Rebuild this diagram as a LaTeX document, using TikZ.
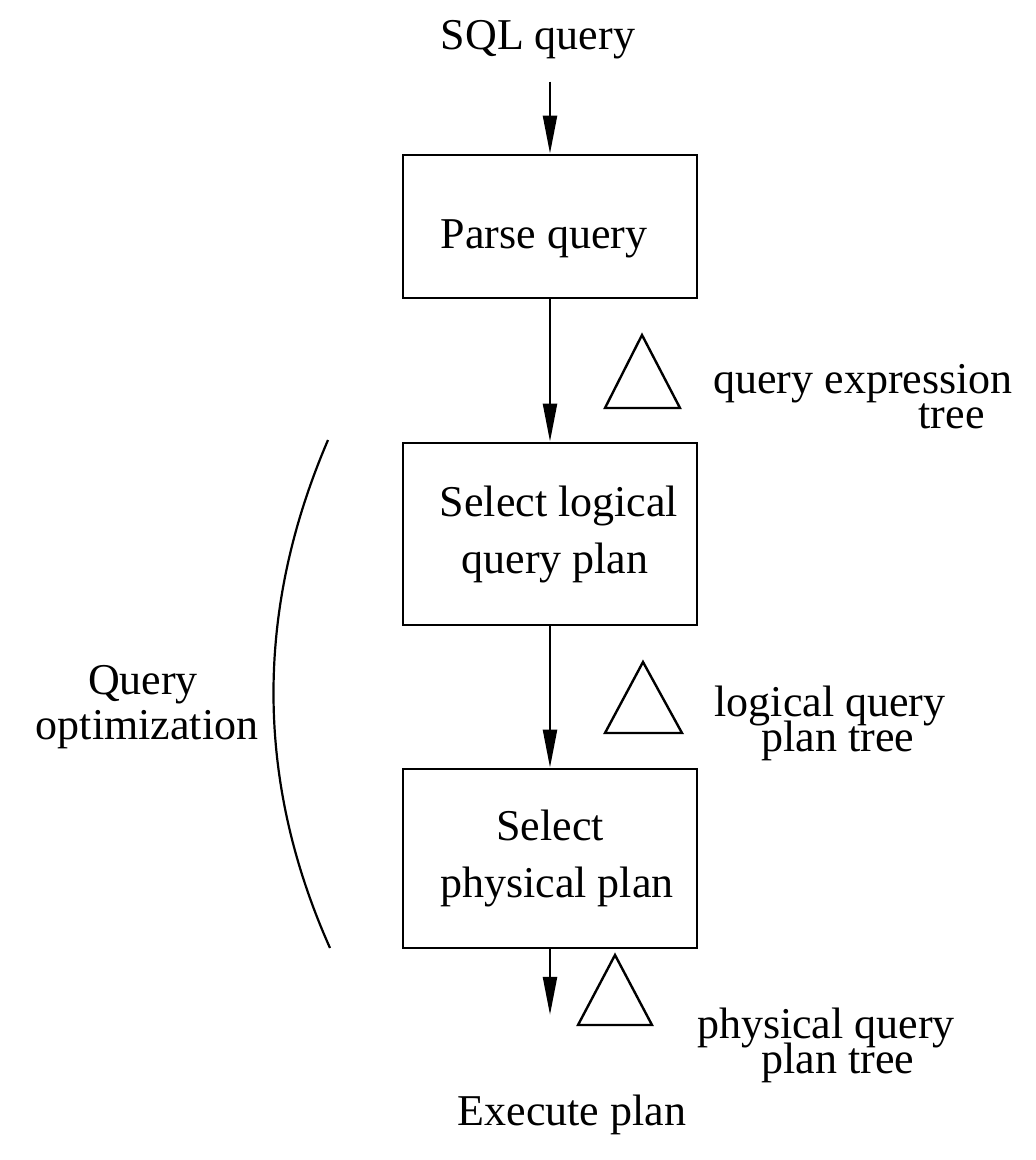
\documentclass[tikz,border=0pt]{standalone}
\usepackage{fontspec}
\setmainfont{Liberation Serif}
\usetikzlibrary{arrows.meta}
\newcommand\mytightlines{\lineskiplimit=-60pt\relax}
\begin{document}
\begin{tikzpicture}[x=1pt,y=-1pt,
  txt/.style={inner sep=0pt,font=\fontsize{44}{57}\selectfont},
  lbl/.style={inner sep=0pt,align=center,font=\fontsize{44}{35}\selectfont\mytightlines},
  stepbox/.style={draw,line width=2.8pt,minimum width=294pt,inner sep=0pt,align=center,font=\fontsize{44}{57}\selectfont},
  arr/.style={line width=2.4pt,-{Triangle[length=38pt,width=14pt]}},
  tri/.style={line width=2.4pt,line join=miter}
]
\useasboundingbox (0,0) rectangle (1036,1160);
% nodes
\node[txt] (sql) at (538,40) {SQL query};
\node[stepbox,minimum height=143pt,text height=54pt,text depth=10pt] (parse) at (550,226.5) {Parse query\hspace*{12pt}};
\node[stepbox,minimum height=182pt] (logical) at (550,534) {\hspace*{18pt}Select logical\\\hspace*{10pt}query plan};
\node[stepbox,minimum height=179pt] (physical) at (550,858.5) {Select\\\hspace*{14pt}physical plan};
\node[txt] (exec) at (572,1115) {Execute plan};
% labels
\node[lbl,align=right] (l1) at (863,397) {query expression\\tree\hspace*{28pt}};
\node[lbl] (l2) at (830,723.5) {logical query\\\hspace*{16pt}plan tree};
\node[lbl] (l3) at (826,1045.5) {physical query\\\hspace*{24pt}plan tree};
\node[txt] (qo1) at (143,685) {Query};
\node[txt] (qo2) at (147,730) {optimization};
% connectors
\draw[arr,shorten <=22pt] (sql.south -| parse.north) -- (parse.north);
\draw[arr] (parse.south) -- (logical.north);
\draw[arr] (logical.south) -- (physical.north);
\draw[arr,shorten >=80pt] (physical.south) -- (physical.south |- exec.north);
% triangles
\draw[tri] (642,335) -- (605,408) -- (680,408) -- cycle;
\draw[tri] (643,662) -- (605,733) -- (682,733) -- cycle;
\draw[tri] (615,955) -- (578,1025) -- (652,1025) -- cycle;
% brace arc
\draw[line width=2.2pt] (328,440) .. controls (255,610) and (255,780) .. (330,948);
\end{tikzpicture}
\end{document}
